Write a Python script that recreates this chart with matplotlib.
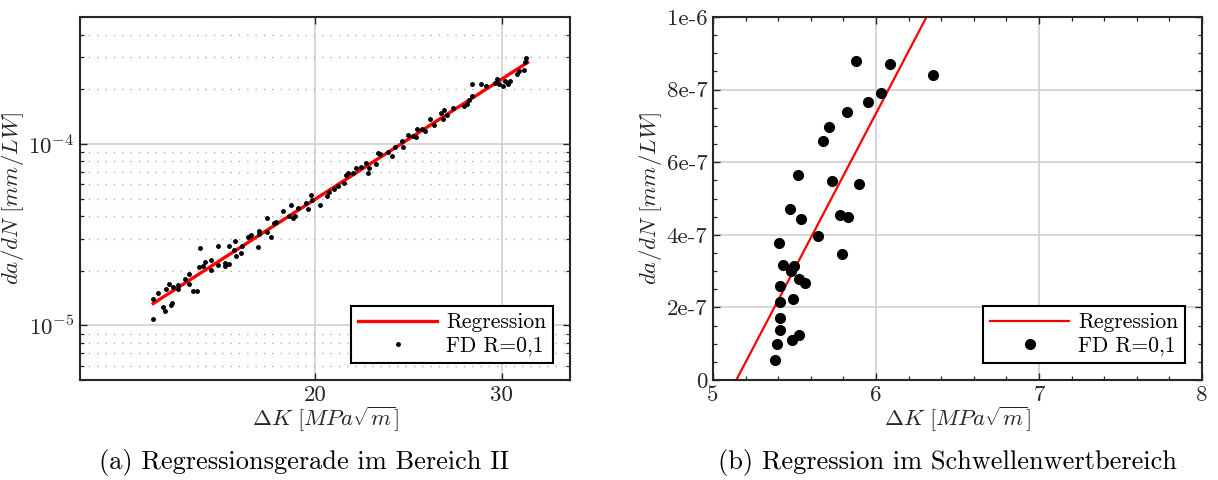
import numpy as np
import matplotlib
matplotlib.use("Agg")
import matplotlib.pyplot as plt
from matplotlib.ticker import AutoMinorLocator, LogLocator, NullLocator, NullFormatter

plt.rcParams['font.family'] = ['cmr10', 'DejaVu Serif']
plt.rcParams['mathtext.fontset'] = 'cm'
plt.rcParams['axes.formatter.use_mathtext'] = True
plt.rcParams['axes.unicode_minus'] = False

# --- data (a): Bereich II, log-log
dk_a = [14.07, 14.07, 14.22, 14.38, 14.43, 14.48, 14.55, 14.62, 14.66, 14.68,
        14.85, 14.86, 15.07, 15.20, 15.21, 15.33, 15.48, 15.55, 15.58, 15.69,
        15.73, 15.95, 15.96, 16.18, 16.18, 16.45, 16.46, 16.59, 16.60, 16.77,
        16.82, 16.86, 17.02, 17.05, 17.29, 17.35, 17.41, 17.68, 17.70, 17.72,
        18.00, 18.01, 18.17, 18.28, 18.37, 18.67, 18.90, 18.99, 19.06, 19.15,
        19.27, 19.59, 19.70, 19.83, 19.87, 20.22, 20.51, 20.61, 20.82, 21.02,
        21.31, 21.38, 21.50, 21.74, 21.86, 22.10, 22.34, 22.46, 22.48, 22.85,
        22.94, 23.03, 23.43, 23.62, 23.77, 24.18, 24.22, 24.45, 24.73, 24.89,
        24.95, 25.25, 25.37, 25.67, 25.88, 26.28, 26.43, 26.47, 26.64, 26.99,
        27.67, 27.84, 27.93, 28.14, 28.10, 28.66, 28.99, 29.58, 29.67, 29.80,
        30.08, 30.23, 30.41, 30.52, 31.04, 31.13, 31.49, 31.53, 31.62]
dadn_a = [1.08e-5, 1.39e-5, 1.50e-5, 1.27e-5, 1.20e-5, 1.59e-5, 1.70e-5, 1.29e-5, 1.32e-5, 1.63e-5,
          1.66e-5, 1.59e-5, 1.79e-5, 1.93e-5, 1.69e-5, 1.54e-5, 1.54e-5, 2.09e-5, 2.67e-5, 2.13e-5,
          2.23e-5, 2.30e-5, 2.03e-5, 2.75e-5, 2.16e-5, 2.12e-5, 2.20e-5, 2.75e-5, 2.18e-5, 2.59e-5,
          2.90e-5, 2.40e-5, 2.50e-5, 2.72e-5, 3.06e-5, 3.09e-5, 3.13e-5, 2.69e-5, 3.18e-5, 3.32e-5,
          3.91e-5, 3.25e-5, 3.06e-5, 3.66e-5, 3.73e-5, 4.25e-5, 3.98e-5, 4.63e-5, 3.92e-5, 4.01e-5,
          4.42e-5, 4.71e-5, 4.38e-5, 5.23e-5, 4.91e-5, 4.61e-5, 5.19e-5, 5.46e-5, 5.62e-5, 5.86e-5,
          6.11e-5, 6.73e-5, 6.93e-5, 6.87e-5, 7.32e-5, 7.48e-5, 7.80e-5, 6.93e-5, 7.32e-5, 7.74e-5,
          8.93e-5, 8.78e-5, 9.04e-5, 8.56e-5, 9.63e-5, 1.04e-4, 9.63e-5, 1.125e-4, 1.106e-4, 1.092e-4,
          1.214e-4, 1.204e-4, 1.174e-4, 1.366e-4, 1.266e-4, 1.485e-4, 1.366e-4, 1.543e-4, 1.436e-4, 1.582e-4,
          1.609e-4, 1.664e-4, 1.750e-4, 1.841e-4, 2.124e-4, 2.124e-4, 2.089e-4, 2.161e-4, 2.282e-4, 2.124e-4,
          2.072e-4, 2.234e-4, 2.124e-4, 2.234e-4, 2.411e-4, 2.514e-4, 2.556e-4, 2.841e-4, 2.975e-4]
reg_a_x = [14.07, 31.74]
reg_a_y = [1.32e-5, 2.81e-4]

# --- data (b): Schwellenwertbereich, linear
dk_b = [5.877, 6.085, 6.351, 6.031, 5.952, 5.823, 5.712, 5.673, 5.521, 5.731,
        5.896, 5.470, 5.540, 5.777, 5.831, 5.642, 5.407, 5.789, 5.431, 5.494,
        5.479, 5.528, 5.562, 5.414, 5.414, 5.492, 5.409, 5.412, 5.528, 5.487,
        5.395, 5.378]
dadn_b = [8.80e-7, 8.71e-7, 8.41e-7, 7.91e-7, 7.66e-7, 7.39e-7, 6.96e-7, 6.58e-7, 5.64e-7, 5.48e-7,
          5.41e-7, 4.72e-7, 4.44e-7, 4.55e-7, 4.50e-7, 3.98e-7, 3.77e-7, 3.47e-7, 3.18e-7, 3.15e-7,
          2.99e-7, 2.79e-7, 2.66e-7, 2.59e-7, 2.15e-7, 2.23e-7, 1.71e-7, 1.38e-7, 1.23e-7, 1.09e-7,
          1.00e-7, 0.55e-7]
reg_b_x = [5.143, 6.31]
reg_b_y = [0.0, 1e-6]

yt_b = [0, 2e-7, 4e-7, 6e-7, 8e-7, 1e-6]
yt_b_lab = ['0', '2e-7', '4e-7', '6e-7', '8e-7', '1e-6']
xt_b = [5, 6, 7, 8]
xt_a = [20, 30]

captions = ['(a) Regressionsgerade im Bereich II', '(b) Regression im Schwellenwertbereich']

dark = '#262626'
fs = 16.5
fs_leg = 15.5

fig = plt.figure(figsize=(12.18, 4.8), dpi=100)
ax1 = fig.add_axes([80/1218, 100/480, 490/1218, 363/480])
ax2 = fig.add_axes([713/1218, 100/480, 489/1218, 363/480])


def style(ax):
    for s in ax.spines.values():
        s.set_linewidth(1.5)
        s.set_color(dark)
    ax.tick_params(which='both', direction='in', top=True, right=True, colors=dark,
                   labelsize=fs, labelcolor=dark)
    ax.tick_params(which='major', length=5, width=1.0, pad=4)
    ax.tick_params(which='minor', length=3, width=0.9)
    ax.set_axisbelow(True)


# (a)
ax1.set_xscale('log')
ax1.set_yscale('log')
ax1.plot(reg_a_x, reg_a_y, color='red', lw=2.4, label='Regression', zorder=2)
ax1.plot(dk_a, dadn_a, '.', color='black', ms=5, label='FD R=0,1', zorder=3)
ax1.set_xlim(12, 34.8)
ax1.set_ylim(5e-6, 5e-4)
ax1.set_xticks(xt_a)
ax1.set_xticklabels([str(v) for v in xt_a])
ax1.xaxis.set_minor_locator(NullLocator())
ax1.yaxis.set_major_locator(LogLocator(base=10, numticks=10))
ax1.yaxis.set_minor_locator(LogLocator(base=10, subs=np.arange(2, 10), numticks=10))
ax1.yaxis.set_minor_formatter(NullFormatter())
ax1.grid(True, which='major', color='#d0d0d0', lw=1.2)
ax1.grid(True, which='minor', axis='y', color='#b0b0b0', lw=1.0, linestyle=(0, (1, 5)))
style(ax1)
ax1.set_xlabel(r'$\Delta K\ [MPa\sqrt{m}]$', fontsize=fs, color=dark, labelpad=0)
ax1.set_ylabel(r'$da/dN\ [mm/LW]$', fontsize=fs, color=dark, labelpad=2)
leg = ax1.legend(loc='lower right', fontsize=fs_leg, handlelength=3.7, handletextpad=0.4,
                 borderpad=0.3, labelspacing=0.2, fancybox=False, framealpha=1,
                 edgecolor='black', borderaxespad=0.8, numpoints=1)
leg.get_frame().set_linewidth(1.5)

# (b)
ax2.plot(reg_b_x, reg_b_y, color='red', lw=1.6, label='Regression', zorder=2)
ax2.plot(dk_b, dadn_b, 'o', color='black', ms=7, label='FD R=0,1', zorder=3)
ax2.set_xlim(5, 8)
ax2.set_ylim(0, 1e-6)
ax2.set_xticks(xt_b)
ax2.set_xticklabels([str(v) for v in xt_b])
ax2.set_yticks(yt_b)
ax2.set_yticklabels(yt_b_lab)
ax2.xaxis.set_minor_locator(AutoMinorLocator(5))
ax2.yaxis.set_minor_locator(AutoMinorLocator(4))
ax2.grid(True, which='major', color='#d0d0d0', lw=1.2)
style(ax2)
ax2.set_xlabel(r'$\Delta K\ [MPa\sqrt{m}]$', fontsize=fs, color=dark, labelpad=0)
ax2.set_ylabel(r'$da/dN\ [mm/LW]$', fontsize=fs, color=dark, labelpad=2)
leg2 = ax2.legend(loc='lower right', fontsize=fs_leg, handlelength=3.7, handletextpad=0.4,
                  borderpad=0.3, labelspacing=0.2, fancybox=False, framealpha=1,
                  edgecolor='black', borderaxespad=0.8, numpoints=1)
leg2.get_frame().set_linewidth(1.5)

fig.text(304/1218, 1 - 462/480, captions[0], ha='center', va='center', fontsize=19)
fig.text(947/1218, 1 - 462/480, captions[1], ha='center', va='center', fontsize=19)

fig.savefig('out.png', dpi=100)
